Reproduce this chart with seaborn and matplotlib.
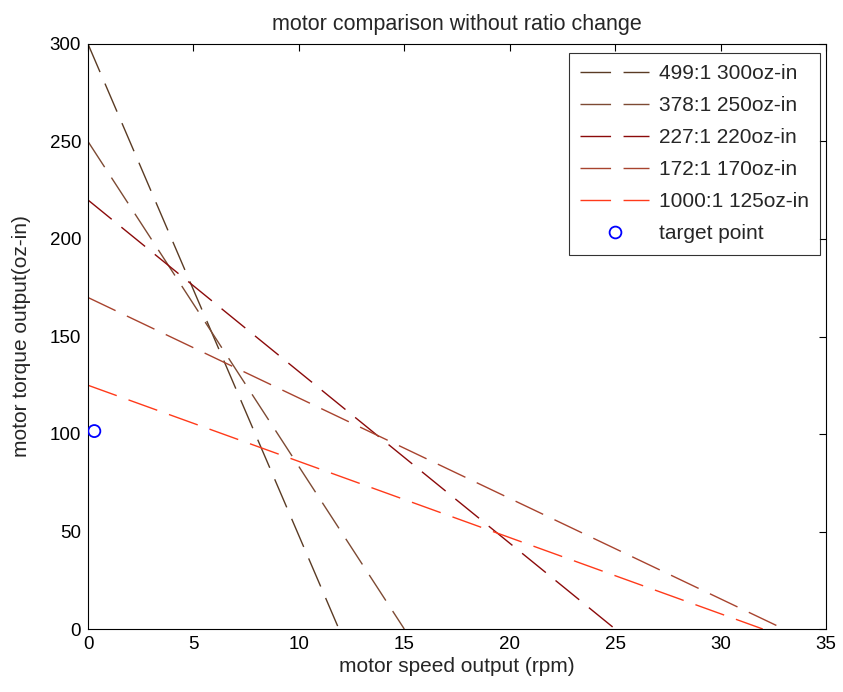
import matplotlib
matplotlib.use("Agg")
import matplotlib.pyplot as plt
import seaborn as sns
import pandas as pd
from matplotlib.lines import Line2D

labels = ["499:1 300oz-in", "378:1 250oz-in", "227:1 220oz-in", "172:1 170oz-in", "1000:1 125oz-in"]
stall_torque = [300, 250, 220, 170, 125]
noload_speed = [11.9, 15, 25, 33, 32]
colors = ["#5a3b24", "#7d4a33", "#8b0a0a", "#a8432e", "#ff3a1a"]
target_speed = [0.3]
target_torque = [101.5]

rows = []
for lab, t, s in zip(labels, stall_torque, noload_speed):
    rows.append({"series": lab, "speed": 0.0, "torque": t})
    rows.append({"series": lab, "speed": s, "torque": 0.0})
df = pd.DataFrame(rows)

sns.set_style("white")
plt.rcParams['font.family'] = ['Liberation Sans', 'DejaVu Sans']

fig = plt.figure(figsize=(8.43, 6.92), dpi=100)
ax = fig.add_axes([88/843, 1-629/692, (826-88)/843, (629-44)/692])

DASH = (22, 9)
sns.lineplot(data=df, x="speed", y="torque", hue="series", hue_order=labels,
             palette=colors, ax=ax, linewidth=1.0, legend=False, sort=False)
for line in ax.lines:
    line.set_dashes(DASH)

sns.scatterplot(x=target_speed, y=target_torque, ax=ax, marker="o", s=75,
                facecolors="none", edgecolors="#0000ff", linewidths=1.3, zorder=5)

handles = [Line2D([], [], color=c, lw=1.0, dashes=DASH) for c in colors]
handles.append(Line2D([], [], color="#0000ff", marker="o", markerfacecolor="none",
                      linestyle="none", markersize=8.5, markeredgewidth=1.3))
leg = ax.legend(handles, labels + ["target point"], loc="upper right",
                fontsize=15, frameon=True, fancybox=False, handlelength=3.3,
                handletextpad=0.45, borderpad=0.55, labelspacing=0.62,
                borderaxespad=0.0, bbox_to_anchor=(0.9919, 0.9846))
leg.get_frame().set_edgecolor("black")
leg.get_frame().set_linewidth(0.8)

ax.set_xlim(0, 35)
ax.set_ylim(0, 300)
ax.set_xticks(range(0, 36, 5))
ax.set_yticks(range(0, 301, 50))
ax.tick_params(direction="in", length=5, width=0.8, top=True, right=True,
               labelsize=13.5, colors="black", pad=5)
for sp in ax.spines.values():
    sp.set_color("black")
    sp.set_linewidth(0.8)
ax.set_xlabel("motor speed output (rpm)", fontsize=15, labelpad=3)
ax.set_ylabel("motor torque output(oz-in)", fontsize=15, labelpad=13)
ax.set_title("motor comparison without ratio change", fontsize=15.5, pad=10)

fig.savefig("out.png", dpi=100)
